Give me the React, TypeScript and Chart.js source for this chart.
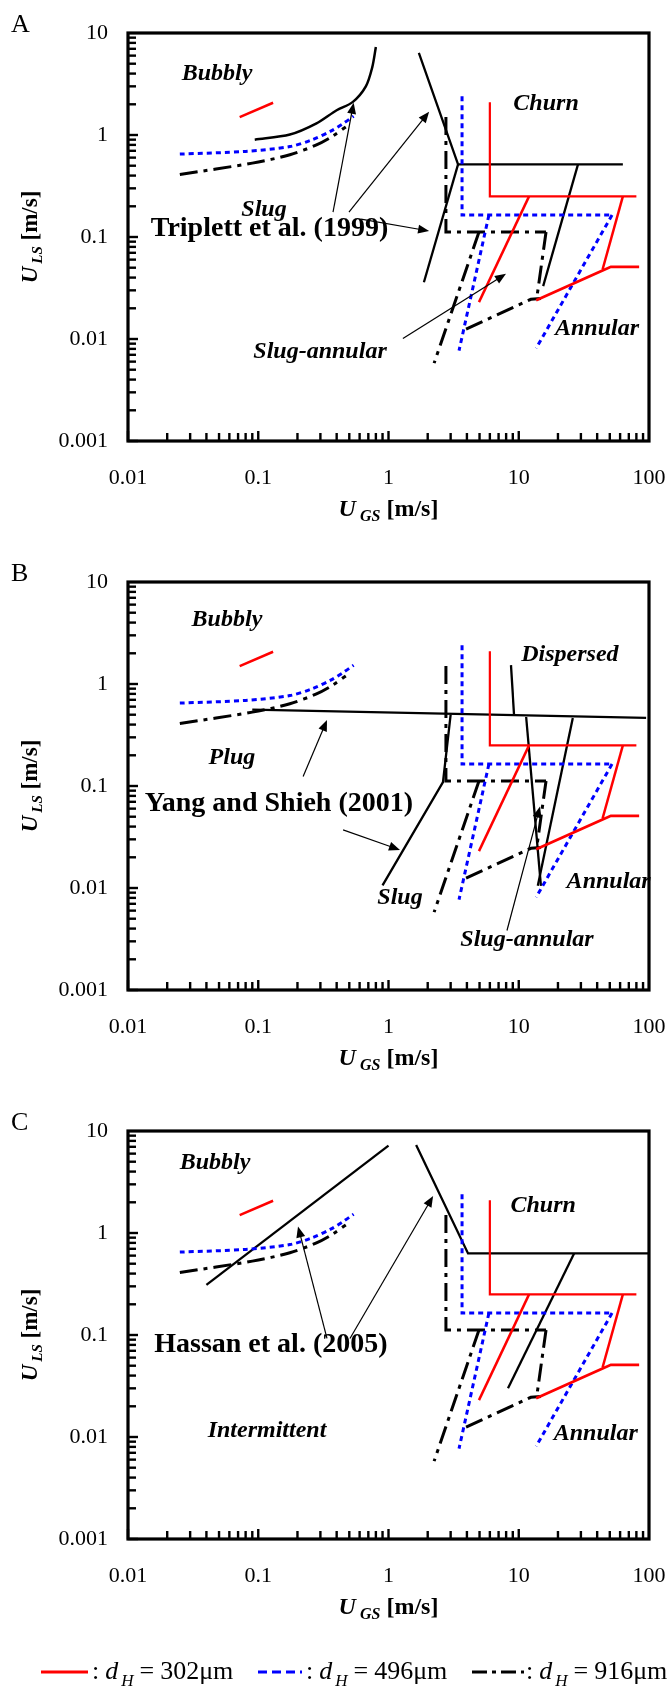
import React, { useEffect, useRef } from 'react';
import { Chart, registerables } from 'chart.js';

Chart.register(...registerables);

type Pt = [number, number];

// ---------- axes ----------
const xTickValues = [0.01, 0.1, 1, 10, 100];
const xTickLabels = ['0.01', '0.1', '1', '10', '100'];
const yTickValues = [0.001, 0.01, 0.1, 1, 10];
const yTickLabels = ['0.001', '0.01', '0.1', '1', '10'];

// ---------- present study: dH = 302 um (red, solid) ----------
const red302Bubbly: Pt[] = [[0.072, 1.5], [0.13, 2.07]];
const red302Churn: Pt[] = [[6, 2.1], [6, 0.25], [80, 0.25]];
const red302Left: Pt[] = [[12, 0.25], [4.95, 0.023]];
const red302Right: Pt[] = [[63, 0.25], [44, 0.048]];
const red302Annular: Pt[] = [[13.6, 0.024], [44, 0.047], [51, 0.051], [84, 0.051]];

// ---------- present study: dH = 496 um (blue, dotted) ----------
const blue496Curve: Pt[] = [[0.025, 0.65], [0.08, 0.69], [0.175, 0.77], [0.26, 0.9], [0.36, 1.09], [0.45, 1.3], [0.54, 1.53]];
const blue496Churn: Pt[] = [[3.67, 2.4], [3.67, 0.164], [53, 0.164]];
const blue496Left: Pt[] = [[5.9, 0.164], [3.48, 0.0077]];
const blue496Right: Pt[] = [[52, 0.164], [13.6, 0.0081]];

// ---------- present study: dH = 916 um (black, dash-dot) ----------
const black916Curve: Pt[] = [[0.025, 0.41], [0.09, 0.53], [0.175, 0.64], [0.28, 0.8], [0.37, 0.97], [0.47, 1.2]];
const black916Churn: Pt[] = [[2.76, 1.5], [2.76, 0.112], [16.2, 0.112]];
const black916Left: Pt[] = [[4.95, 0.112], [2.24, 0.0058]];
const black916Right: Pt[] = [[16.2, 0.112], [13.8, 0.026]];
const black916Annular: Pt[] = [[3.94, 0.0125], [12.4, 0.0245], [14.8, 0.025]];

// ---------- Triplett et al. (1999) ----------
const triplettCurve: Pt[] = [[0.094, 0.9], [0.175, 1.01], [0.28, 1.3], [0.4, 1.75], [0.53, 2.1], [0.67, 3.0], [0.75, 4.6], [0.8, 7.3]];
const triplettChurn: Pt[] = [[1.71, 6.4], [3.42, 0.515], [63, 0.515]];
const triplettSlug: Pt[] = [[3.42, 0.515], [1.87, 0.036]];
const triplettAnnular: Pt[] = [[28.5, 0.515], [15.4, 0.033]];

// ---------- Yang and Shieh (2001) ----------
const yangPlug: Pt[] = [[0.09, 0.56], [95, 0.465]];
const yangSlug: Pt[] = [[3.0, 0.5], [2.62, 0.109], [0.9, 0.0106]];
const yangDispersed: Pt[] = [[8.72, 1.53], [9.2, 0.497]];
const yangSlugAnnular: Pt[] = [[11.4, 0.475], [14.8, 0.0105]];
const yangAnnular: Pt[] = [[26, 0.465], [14.0, 0.0105]];

// ---------- Hassan et al. (2005) ----------
const hassanBubbly: Pt[] = [[0.04, 0.31], [1.0, 7.2]];
const hassanChurn: Pt[] = [[1.63, 7.3], [4.08, 0.63], [100, 0.63]];
const hassanAnnular: Pt[] = [[26.6, 0.63], [8.27, 0.03]];

// ---------- annotations ----------
type Label = { text: string; at: Pt; kind: 'region' | 'ref' };
type Arrow = { from: Pt; to: Pt };

const labelsA: Label[] = [
  { text: 'Bubbly', at: [0.0482, 3.98], kind: 'region' },
  { text: 'Slug', at: [0.1107, 0.183], kind: 'region' },
  { text: 'Triplett et al. (1999)', at: [0.122, 0.12], kind: 'ref' },
  { text: 'Churn', at: [16.2, 2.03], kind: 'region' },
  { text: 'Slug-annular', at: [0.298, 0.00755], kind: 'region' },
  { text: 'Annular', at: [39.9, 0.01265], kind: 'region' },
];
const arrowsA: Arrow[] = [
  { from: [0.375, 0.175], to: [0.54, 2.07] },
  { from: [0.497, 0.175], to: [2.05, 1.69] },
  { from: [0.615, 0.15], to: [2.05, 0.1145] },
  { from: [1.29, 0.0101], to: [7.98, 0.0435] },
];

const labelsB: Label[] = [
  { text: 'Bubbly', at: [0.0575, 4.22], kind: 'region' },
  { text: 'Plug', at: [0.0628, 0.187], kind: 'region' },
  { text: 'Yang and Shieh (2001)', at: [0.144, 0.0671], kind: 'ref' },
  { text: 'Dispersed', at: [24.7, 1.95], kind: 'region' },
  { text: 'Slug', at: [1.225, 0.00793], kind: 'region' },
  { text: 'Slug-annular', at: [11.57, 0.00312], kind: 'region' },
  { text: 'Annular', at: [49, 0.0114], kind: 'region' },
];
const arrowsB: Arrow[] = [
  { from: [0.221, 0.124], to: [0.337, 0.443] },
  { from: [0.448, 0.0371], to: [1.225, 0.0236] },
  { from: [8.12, 0.00383], to: [14.56, 0.0628] },
];

const labelsC: Label[] = [
  { text: 'Bubbly', at: [0.0466, 4.85], kind: 'region' },
  { text: 'Hassan et al. (2005)', at: [0.125, 0.0807], kind: 'ref' },
  { text: 'Churn', at: [15.4, 1.83], kind: 'region' },
  { text: 'Intermittent', at: [0.1167, 0.0115], kind: 'region' },
  { text: 'Annular', at: [39, 0.01076], kind: 'region' },
];
const arrowsC: Arrow[] = [
  { from: [0.337, 0.0925], to: [0.202, 1.16] },
  { from: [0.506, 0.0925], to: [2.2, 2.3] },
];

const legendNames = ['302μm', '496μm', '916μm'];

// ---------- styling ----------
const FONT = "'Liberation Serif', 'Times New Roman', serif";
const RED = '#ff0000';
const BLUE = '#0000ff';
const BLACK = '#000000';
const DASH_BLUE = [5, 4];
const DASH_DOT = [18, 6, 4, 6];

const mk = (data: Pt[], color: string, width: number, dash: number[] = [], tension = 0) => ({
  data: data.map(([x, y]) => ({ x, y })),
  borderColor: color,
  backgroundColor: color,
  borderWidth: width,
  borderDash: dash,
  borderCapStyle: 'butt',
  borderJoinStyle: 'miter',
  pointRadius: 0,
  pointHoverRadius: 0,
  fill: false,
  tension,
});

const studyDatasets = () => [
  mk(red302Bubbly, RED, 2.5),
  mk(red302Churn, RED, 2.2),
  mk(red302Left, RED, 2.5),
  mk(red302Right, RED, 2.5),
  mk(red302Annular, RED, 2.8),
  mk(blue496Curve, BLUE, 3, DASH_BLUE, 0.3),
  mk(blue496Churn, BLUE, 3, DASH_BLUE),
  mk(blue496Left, BLUE, 3, DASH_BLUE),
  mk(blue496Right, BLUE, 3, DASH_BLUE),
  mk(black916Curve, BLACK, 3, DASH_DOT, 0.3),
  mk(black916Churn, BLACK, 3, DASH_DOT),
  mk(black916Left, BLACK, 3, DASH_DOT),
  mk(black916Right, BLACK, 3, DASH_DOT),
  mk(black916Annular, BLACK, 3, DASH_DOT),
];

type Part = { t: string; f: string; dy?: number; gap?: number };

function drawRich(ctx: CanvasRenderingContext2D, parts: Part[], x: number, y: number, align: 'center' | 'left') {
  let total = 0;
  const widths = parts.map((p) => {
    ctx.font = p.f;
    const w = ctx.measureText(p.t).width + (p.gap || 0);
    total += w;
    return w;
  });
  let cx = align === 'center' ? x - total / 2 : x;
  ctx.textAlign = 'left';
  ctx.textBaseline = 'alphabetic';
  parts.forEach((p, i) => {
    ctx.font = p.f;
    ctx.fillText(p.t, cx + (p.gap || 0), y + (p.dy || 0));
    cx += widths[i];
  });
}

function drawArrow(ctx: CanvasRenderingContext2D, x1: number, y1: number, x2: number, y2: number) {
  const ang = Math.atan2(y2 - y1, x2 - x1);
  const hl = 11;
  const hw = 4.5;
  ctx.save();
  ctx.strokeStyle = BLACK;
  ctx.fillStyle = BLACK;
  ctx.lineWidth = 1.2;
  ctx.setLineDash([]);
  ctx.beginPath();
  ctx.moveTo(x1, y1);
  ctx.lineTo(x2 - Math.cos(ang) * hl * 0.8, y2 - Math.sin(ang) * hl * 0.8);
  ctx.stroke();
  ctx.beginPath();
  ctx.moveTo(x2, y2);
  ctx.lineTo(x2 - Math.cos(ang) * hl - Math.sin(ang) * hw, y2 - Math.sin(ang) * hl + Math.cos(ang) * hw);
  ctx.lineTo(x2 - Math.cos(ang) * hl + Math.sin(ang) * hw, y2 - Math.sin(ang) * hl - Math.cos(ang) * hw);
  ctx.closePath();
  ctx.fill();
  ctx.restore();
}

type PanelProps = {
  letter: string;
  height: number;
  lines: Pt[][];
  curves: Pt[][];
  labels: Label[];
  arrows: Arrow[];
  legend?: boolean;
};

function Panel({ letter, height, lines, curves, labels, arrows, legend }: PanelProps) {
  const ref = useRef<HTMLCanvasElement | null>(null);

  useEffect(() => {
    const canvas = ref.current;
    if (!canvas) return;

    const decor = {
      id: 'decor',
      afterDatasetsDraw(chart: any) {
        const ctx: CanvasRenderingContext2D = chart.ctx;
        const xs = chart.scales.x;
        const ys = chart.scales.y;
        ctx.save();
        arrows.forEach((a) => {
          drawArrow(ctx, xs.getPixelForValue(a.from[0]), ys.getPixelForValue(a.from[1]), xs.getPixelForValue(a.to[0]), ys.getPixelForValue(a.to[1]));
        });
        ctx.fillStyle = BLACK;
        ctx.textAlign = 'center';
        ctx.textBaseline = 'middle';
        labels.forEach((l) => {
          ctx.font = l.kind === 'ref' ? `bold 28px ${FONT}` : `italic bold 24px ${FONT}`;
          ctx.fillText(l.text, xs.getPixelForValue(l.at[0]), ys.getPixelForValue(l.at[1]));
        });
        ctx.restore();
      },
      afterDraw(chart: any) {
        const ctx: CanvasRenderingContext2D = chart.ctx;
        const xs = chart.scales.x;
        const ys = chart.scales.y;
        const { left, right, top, bottom } = chart.chartArea;
        ctx.save();
        ctx.setLineDash([]);
        ctx.strokeStyle = BLACK;
        // ticks (inward)
        ctx.lineWidth = 2.4;
        for (let e = -2; e < 2; e++) {
          for (let m = 1; m <= 9; m++) {
            const v = m * Math.pow(10, e);
            const px = xs.getPixelForValue(v);
            const len = m === 1 ? 10 : 8;
            ctx.beginPath();
            ctx.moveTo(px, bottom);
            ctx.lineTo(px, bottom - len);
            ctx.stroke();
          }
        }
        for (let e = -3; e < 1; e++) {
          for (let m = 1; m <= 9; m++) {
            const v = m * Math.pow(10, e);
            const py = ys.getPixelForValue(v);
            const len = m === 1 ? 10 : 8;
            ctx.beginPath();
            ctx.moveTo(left, py);
            ctx.lineTo(left + len, py);
            ctx.stroke();
          }
        }
        // frame
        ctx.lineWidth = 3.2;
        ctx.strokeRect(left, top, right - left, bottom - top);
        // tick labels
        ctx.fillStyle = BLACK;
        ctx.font = `22px ${FONT}`;
        ctx.textAlign = 'center';
        ctx.textBaseline = 'middle';
        xTickValues.forEach((v, i) => ctx.fillText(xTickLabels[i], xs.getPixelForValue(v), bottom + 37));
        ctx.textAlign = 'right';
        yTickValues.forEach((v, i) => ctx.fillText(yTickLabels[i], left - 20, ys.getPixelForValue(v)));
        // x title
        drawRich(
          ctx,
          [
            { t: 'U', f: `italic bold 24px ${FONT}` },
            { t: 'GS', f: `italic bold 16px ${FONT}`, dy: 5, gap: 4 },
            { t: ' [m/s]', f: `bold 24px ${FONT}` },
          ],
          xs.getPixelForValue(1),
          bottom + 75,
          'center'
        );
        // y title
        ctx.save();
        ctx.translate(37, (top + bottom) / 2);
        ctx.rotate(-Math.PI / 2);
        drawRich(
          ctx,
          [
            { t: 'U', f: `italic bold 23px ${FONT}` },
            { t: 'LS', f: `italic bold 15px ${FONT}`, dy: 5, gap: 3 },
            { t: ' [m/s]', f: `bold 23px ${FONT}` },
          ],
          0,
          0,
          'center'
        );
        ctx.restore();
        // panel letter
        ctx.font = `26px ${FONT}`;
        ctx.textAlign = 'left';
        ctx.textBaseline = 'alphabetic';
        ctx.fillText(letter, 11, top - 1);
        // legend
        if (legend) {
          const ly = height - 8;
          const items = [
            { x0: 41, x1: 88, tx: 92, color: RED, dash: [] as number[] },
            { x0: 258, x1: 302, tx: 306, color: BLUE, dash: [9, 5] },
            { x0: 472, x1: 524, tx: 526, color: BLACK, dash: [15, 5, 4, 5] },
          ];
          items.forEach((it, i) => {
            ctx.save();
            ctx.strokeStyle = it.color;
            ctx.lineWidth = 3;
            ctx.setLineDash(it.dash);
            ctx.beginPath();
            ctx.moveTo(it.x0, ly - 6);
            ctx.lineTo(it.x1, ly - 6);
            ctx.stroke();
            ctx.restore();
            ctx.fillStyle = BLACK;
            drawRich(
              ctx,
              [
                { t: ':', f: `26px ${FONT}` },
                { t: 'd', f: `italic 26px ${FONT}`, gap: 6 },
                { t: 'H', f: `italic 17px ${FONT}`, dy: 7, gap: 3 },
                { t: '=', f: `26px ${FONT}`, gap: 6 },
                { t: legendNames[i], f: `26px ${FONT}`, gap: 6 },
              ],
              it.tx,
              ly + 1,
              'left'
            );
          });
        }
        ctx.restore();
      },
    };

    const datasets = [
      ...studyDatasets(),
      ...curves.map((c) => mk(c, BLACK, 2.5, [], 0.3)),
      ...lines.map((l) => mk(l, BLACK, 2.3)),
    ];

    const chart = new Chart(canvas, {
      type: 'line',
      data: { datasets } as any,
      options: {
        animation: false,
        responsive: false,
        maintainAspectRatio: false,
        devicePixelRatio: 1,
        events: [],
        layout: { padding: { left: 128, right: 23, top: 33, bottom: height - 441 } },
        plugins: { legend: { display: false }, tooltip: { enabled: false } },
        scales: {
          x: { type: 'logarithmic', min: 0.01, max: 100, display: false },
          y: { type: 'logarithmic', min: 0.001, max: 10, display: false },
        },
      } as any,
      plugins: [decor],
    });
    return () => chart.destroy();
  }, []);

  return <canvas ref={ref} width={672} height={height} style={{ display: 'block', width: 672, height }} />;
}

export default function App() {
  return (
    <div style={{ width: 672, background: '#fff' }}>
      <style>{'body{margin:0;background:#fff;}'}</style>
      <Panel
        letter="A"
        height={549}
        curves={[triplettCurve]}
        lines={[triplettChurn, triplettSlug, triplettAnnular]}
        labels={labelsA}
        arrows={arrowsA}
      />
      <Panel
        letter="B"
        height={549}
        curves={[]}
        lines={[yangPlug, yangSlug, yangDispersed, yangSlugAnnular, yangAnnular]}
        labels={labelsB}
        arrows={arrowsB}
      />
      <Panel
        letter="C"
        height={588}
        curves={[]}
        lines={[hassanBubbly, hassanChurn, hassanAnnular]}
        labels={labelsC}
        arrows={arrowsC}
        legend
      />
    </div>
  );
}
